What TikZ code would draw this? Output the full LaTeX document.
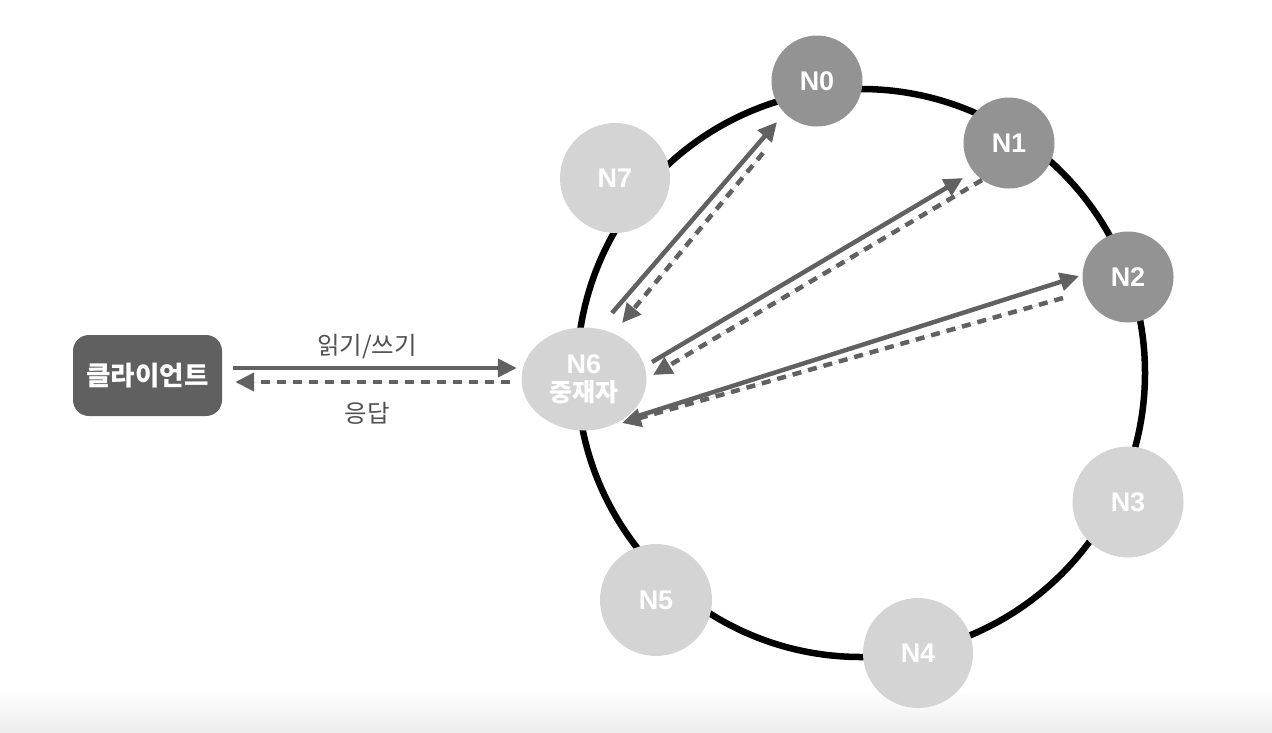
\documentclass[tikz,border=0pt]{standalone}
\usepackage{fontspec}
\setmainfont{Liberation Sans}
\newfontfamily\kr{Noto Sans CJK KR}
\usetikzlibrary{shapes.geometric,arrows.meta,calc}
\definecolor{darknode}{HTML}{939393}
\definecolor{lightnode}{HTML}{D4D4D4}
\definecolor{clientc}{HTML}{606060}
\definecolor{arrowc}{HTML}{616161}
\definecolor{labelc}{HTML}{505050}
\tikzset{
  ringnode/.style={circle, inner sep=0pt, text=white, font=\bfseries\fontsize{27}{30}\selectfont},
  darkring/.style={ringnode, fill=darknode, minimum size=91pt},
  lightring/.style={ringnode, fill=lightnode, minimum size=111pt},
  solidarr/.style={draw=arrowc, line width=4.5pt, -{Triangle[length=19pt,width=18pt]}, fill=arrowc},
  dasharr/.style={solidarr, dash pattern=on 9pt off 7pt},
  lbl/.style={text=labelc, font=\kr\fontsize{24.5}{28}\selectfont}
}
\begin{document}
\begin{tikzpicture}[x=1pt,y=-1pt]
\useasboundingbox (0,0) rectangle (1272,732);
\shade[top color=white, bottom color=black!7] (0,690) rectangle (1272,732);
% ring
\draw[line width=6.5pt, black] (861,373) circle (284);
% nodes
\node[darkring] (n0) at (817,81) {N0};
\node[darkring] (n1) at (1009,143) {N1};
\node[darkring] (n2) at (1128,277) {N2};
\node[lightring] (n3) at (1128,502) {N3};
\node[lightring, minimum size=110pt] (n4) at (918,653) {N4};
\node[lightring, minimum size=112pt] (n5) at (656,600) {N5};
\node[lightring, minimum size=110pt] (n7) at (615,178) {N7};
\node[ellipse, fill=lightnode, inner sep=0pt, minimum width=125pt, minimum height=103pt,
      text=white, align=center, font=\bfseries\fontsize{27}{29}\selectfont] (n6) at (584,379)
      {N6\\[-1pt]{\kr\fontsize{25}{29}\selectfont 중재자}};
\node[rectangle, rounded corners=16pt, fill=clientc, minimum width=149pt, minimum height=81pt,
      text=white, font=\kr\bfseries\fontsize{26.5}{30}\selectfont] (client) at (147.5,375.5) {클라이언트};
% labels
\node[lbl] (rw) at (367,347) {읽기/쓰기};
\node[lbl] (resp) at (367,413) {응답};
% client <-> n6
\draw[solidarr] ($(client.east)+(11,-7.5)$) -- ($(n6.west)+(-4.5,-11)$);
\draw[dasharr] ($(n6.west)+(-11.5,3)$) -- ($(client.east)+(13,6.5)$);
% n6 <-> n0
\draw[solidarr] ($(n6)+(28,-66)$) -- ($(n0)+(-40,41)$);
\draw[dasharr] ($(n0)+(-54,72)$) -- ($(n6)+(38,-56)$);
% n6 <-> n1
\draw[solidarr] ($(n6)+(68,-17)$) -- ($(n1)+(-46,35)$);
\draw[dasharr] ($(n1)+(-27,37)$) -- ($(n6)+(69,-4)$);
% n6 <-> n2
\draw[solidarr] ($(n6)+(54,37)$) -- ($(n2)+(-49,-1)$);
\draw[dasharr] ($(n2)+(-65,21)$) -- ($(n6)+(38,44)$);
\end{tikzpicture}
\end{document}
